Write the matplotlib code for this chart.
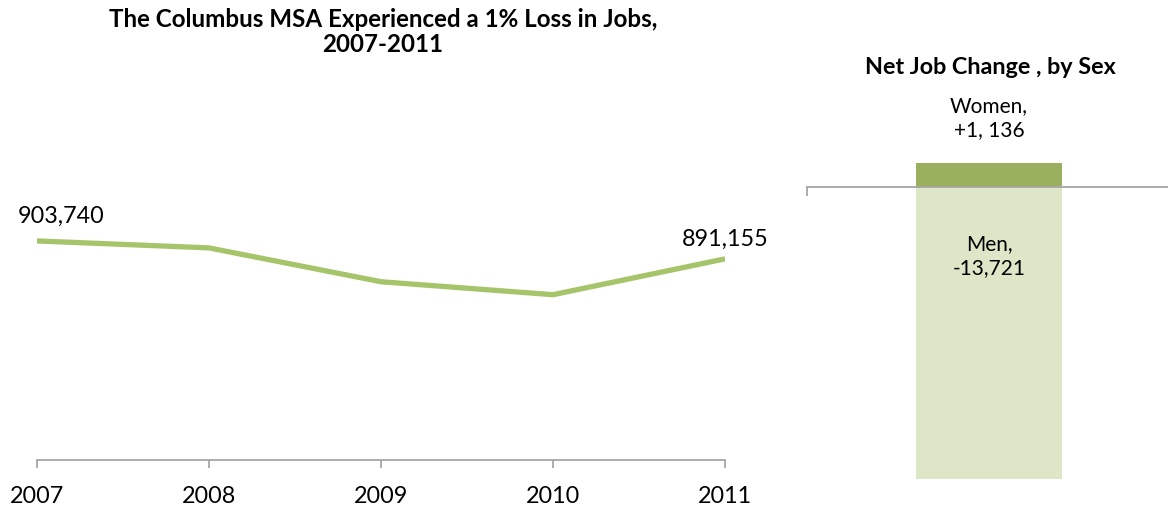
import matplotlib.pyplot as plt

plt.rcParams['font.family'] = ['Lato', 'DejaVu Sans']

# Columbus MSA total jobs
years = [2007, 2008, 2009, 2010, 2011]
jobs = [903740, 898850, 875100, 866000, 891155]

# Net job change by sex
sexes = ['Men', 'Women']
job_change = [-13721, 1136]

line_color = '#a6c46a'
axis_color = '#a6a6a6'

fig = plt.figure(figsize=(11.68, 5.10), dpi=100)

# left panel: total jobs line
ax = fig.add_axes([37 / 1168, 49 / 510, 688 / 1168, 285 / 510])
ax.plot(years, jobs, color=line_color, lw=3.8, solid_capstyle='butt')
ax.set_xlim(2007, 2011)
ax.set_ylim(750000, 950000)
ax.set_xticks(years)
ax.set_xticklabels([str(y) for y in years], fontsize=16.8)
ax.set_yticks([])
for s in ['top', 'right', 'left']:
    ax.spines[s].set_visible(False)
ax.spines['bottom'].set_color(axis_color)
ax.spines['bottom'].set_linewidth(1.3)
ax.tick_params(axis='x', direction='out', length=5.5, width=1.3,
               color=axis_color, pad=12.5)

ax.annotate(f'{jobs[0]:,}', (years[0], jobs[0]), xytext=(-14, 18.5),
            textcoords='offset points', ha='left', va='center', fontsize=16.8)
ax.annotate(f'{jobs[-1]:,}', (years[-1], jobs[-1]), xytext=(0, 14.5),
            textcoords='offset points', ha='center', va='center', fontsize=16.8)

fig.text(383 / 1168, 1 - 32 / 510,
         'The Columbus MSA Experienced a 1% Loss in Jobs,\n2007-2011',
         ha='center', va='center', fontsize=17.4, fontweight='bold',
         linespacing=1.12)

# right panel: net change bar
ax2 = fig.add_axes([807 / 1168, 30 / 510, 361 / 1168, 320 / 510])
men, women = job_change
ax2.bar(0, men, width=1, color='#dde6c7')
ax2.bar(0, women, width=1, color='#9bb05e')
ax2.set_xlim(-1.247, 1.226)
ax2.set_ylim(men, men + 320 * abs(men) / 292)
for s in ['top', 'right', 'left']:
    ax2.spines[s].set_visible(False)
ax2.spines['bottom'].set_position(('data', 0))
ax2.spines['bottom'].set_color(axis_color)
ax2.spines['bottom'].set_linewidth(1.3)
ax2.set_yticks([])
ax2.set_xticks([-1.247])
ax2.set_xticklabels([])
ax2.tick_params(axis='x', direction='out', length=6.5, width=1.3,
                color=axis_color)

ax2.text(0, women + 2150, f'{sexes[1]},\n+1, 136', ha='center', va='center',
         fontsize=15, linespacing=1.2)
ax2.text(0, -3200, f'{sexes[0]},\n{men:,}', ha='center', va='center',
         fontsize=15, linespacing=1.2)

fig.text(990 / 1168, 1 - 68 / 510, 'Net Job Change , by Sex', ha='center',
         va='center', fontsize=16.8, fontweight='bold')

fig.savefig('out.png', dpi=100)
